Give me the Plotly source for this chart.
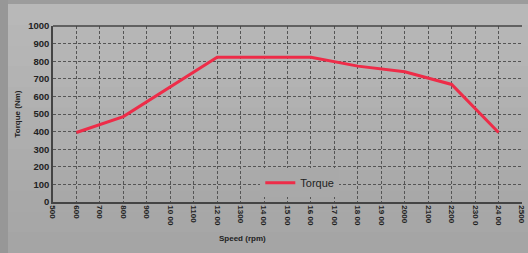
import plotly.graph_objects as go

speed = [600, 800, 1200, 1600, 1800, 2000, 2200, 2400]
torque = [395, 485, 822, 822, 772, 740, 668, 395]
x_ticks = list(range(500, 2600, 100))
x_labels = ["500", "600", "700", "800", "900", "10 00", "1100", "12 00", "1300", "14 00",
            "15 00", "16 00", "17 00", "18 00", "19 00", "2000", "2100", "2200", "230 0", "24 00", "2500"]
y_ticks = list(range(0, 1100, 100))

W, H, L, R, T, B = 528, 253, 53, 6, 26, 51
PW, PH = W - L - R, H - T - B


def px_x(x):
    return (x - L) / PW


def px_y(y):
    return (H - B - y) / PH


bg = "#aaaaaa"
shapes = []
# vertical gradient background bands
n = 12
top_c, bot_c = 184, 165
for i in range(n):
    y0 = 4 + (H - 4) * i / n
    y1 = 4 + (H - 4) * (i + 1) / n
    c = round(top_c + (bot_c - top_c) * i / (n - 1))
    shapes.append(dict(type="rect", xref="paper", yref="paper", x0=px_x(0), x1=px_x(W),
                       y0=px_y(y1 + 0.5), y1=px_y(y0), fillcolor=f"rgb({c},{c},{c})",
                       line=dict(width=0), layer="below"))
shapes += [
    dict(type="rect", xref="paper", yref="paper", x0=px_x(0), x1=px_x(W), y0=px_y(4), y1=px_y(0),
         fillcolor="#9c9c9c", line=dict(width=0), layer="below"),
    dict(type="rect", xref="paper", yref="paper", x0=px_x(0), x1=px_x(8), y0=px_y(H), y1=px_y(0),
         fillcolor="#979797", line=dict(width=0), layer="below"),
    dict(type="line", xref="paper", yref="paper", x0=0, x1=1, y0=1, y1=1,
         line=dict(color="#444444", width=1.5)),
]

fig = go.Figure()
fig.add_trace(go.Scatter(x=speed, y=torque, mode="lines", name="Torque",
                         line=dict(color="#ee2c48", width=3)))

fig.update_layout(
    width=W, height=H,
    margin=dict(l=L, r=R, t=T, b=B, autoexpand=False),
    paper_bgcolor=bg, plot_bgcolor="rgba(0,0,0,0)",
    font=dict(family="Liberation Sans", color="#222222"),
    showlegend=True,
    legend=dict(x=0.442, y=0.11, xanchor="left", yanchor="middle",
                bgcolor="rgb(169,169,169)", font=dict(size=11, color="#222222"),
                itemwidth=30, borderwidth=0, tracegroupgap=0),
    xaxis=dict(range=[500, 2500], tickmode="array", tickvals=x_ticks, ticktext=x_labels,
               tickangle=90, tickfont=dict(size=8, color="#1e1e1e", weight=600), automargin=False,
               showgrid=True, gridcolor="#555555", griddash="3px,2px", gridwidth=1,
               showline=True, linecolor="#444444", linewidth=1.5, zeroline=False,
               ticks="", ticklen=0),
    yaxis=dict(range=[0, 1000], tickmode="array", tickvals=y_ticks, automargin=False,
               tickfont=dict(size=9.5, color="#222222", family="Liberation Sans", weight="bold"),
               showgrid=True, gridcolor="#555555", griddash="3px,2px", gridwidth=1,
               showline=True, linecolor="#444444", linewidth=1.5, zeroline=False,
               title=dict(text="<b>Torque (Nm)</b>", font=dict(size=8, color="#222222"), standoff=6)),
    shapes=shapes,
    annotations=[
        dict(text="<b>Speed (rpm)</b>", xref="paper", yref="paper", x=px_x(242), y=px_y(238),
             showarrow=False, font=dict(size=8, color="#222222"), xanchor="center", yanchor="middle"),
    ],
)

fig.write_html("out.html", config={"displayModeBar": False},
               post_script="document.body.style.margin='0';document.body.style.overflow='hidden';")
